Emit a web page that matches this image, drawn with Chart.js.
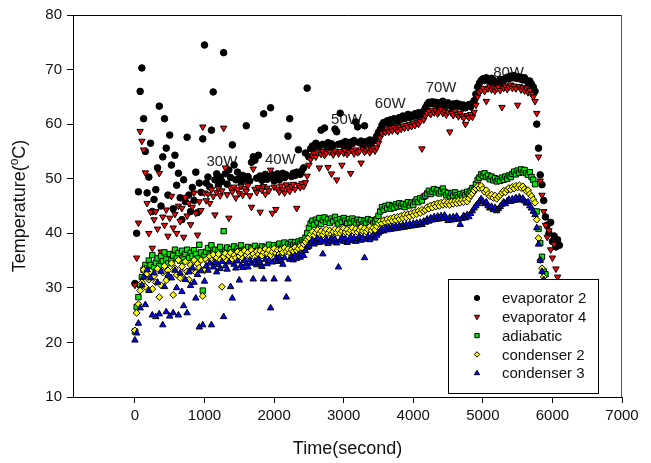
<!DOCTYPE html>
<html>
<head>
<meta charset="utf-8">
<script src="https://cdn.jsdelivr.net/npm/chart.js@4.4.0/dist/chart.umd.min.js"></script>
<style>
  html, body { margin: 0; padding: 0; background: #fff; }
  #wrap { width: 651px; height: 463px; }
</style>
</head>
<body>
<div id="wrap"><canvas id="tempChart" width="651" height="463"></canvas></div>
<script>
// time of each sample (s)
var timeSec = [
  0, 25, 50, 75, 100, 125, 150, 175, 200, 225, 250, 275, 300, 325, 350, 375, 400, 425, 450, 475,
  500, 525, 550, 575, 600, 625, 650, 675, 700, 725, 750, 775, 800, 825, 850, 875, 900, 925, 950, 975,
  1000, 1025, 1050, 1075, 1100, 1125, 1150, 1175, 1200, 1225, 1250, 1275, 1300, 1325, 1350, 1375, 1400, 1425, 1450, 1475,
  1500, 1525, 1550, 1575, 1600, 1625, 1650, 1675, 1700, 1725, 1750, 1775, 1800, 1825, 1850, 1875, 1900, 1925, 1950, 1975,
  2000, 2025, 2050, 2075, 2100, 2125, 2150, 2175, 2200, 2225, 2250, 2275, 2300, 2325, 2350, 2375, 2400, 2425, 2450, 2475,
  2500, 2525, 2550, 2575, 2600, 2625, 2650, 2675, 2700, 2725, 2750, 2775, 2800, 2825, 2850, 2875, 2900, 2925, 2950, 2975,
  3000, 3025, 3050, 3075, 3100, 3125, 3150, 3175, 3200, 3225, 3250, 3275, 3300, 3325, 3350, 3375, 3400, 3425, 3450, 3475,
  3500, 3525, 3550, 3575, 3600, 3625, 3650, 3675, 3700, 3725, 3750, 3775, 3800, 3825, 3850, 3875, 3900, 3925, 3950, 3975,
  4000, 4025, 4050, 4075, 4100, 4125, 4150, 4175, 4200, 4225, 4250, 4275, 4300, 4325, 4350, 4375, 4400, 4425, 4450, 4475,
  4500, 4525, 4550, 4575, 4600, 4625, 4650, 4675, 4700, 4725, 4750, 4775, 4800, 4825, 4850, 4875, 4900, 4925, 4950, 4975,
  5000, 5025, 5050, 5075, 5100, 5125, 5150, 5175, 5200, 5225, 5250, 5275, 5300, 5325, 5350, 5375, 5400, 5425, 5450, 5475,
  5500, 5525, 5550, 5575, 5600, 5625, 5650, 5675, 5700, 5725, 5750, 5775, 5800, 5825, 5850, 5875, 5900, 5925, 5950, 5975,
  6000, 6025, 6050, 6075, 6100
];

var evaporator2 = [
  30.8, 40.0, 47.6, 66.0, 70.3, 61.0, 55.0, 47.4, 50.3, 56.5, 44.0, 46.2, 48.0, 52.0, 63.3, 45.0, 54.0, 61.0, 55.6, 47.0,
  58.0, 52.5, 44.5, 54.3, 48.8, 51.0, 46.5, 42.5, 49.8, 45.8, 57.6, 47.0, 44.0, 48.4, 46.0, 51.2, 43.8, 49.2, 47.5, 57.3,
  74.5, 49.2, 50.3, 48.5, 58.9, 65.9, 49.8, 50.9, 48.8, 50.3, 49.5, 73.1, 50.9, 49.0, 51.6, 50.2, 56.2, 52.5, 49.8, 51.2,
  50.0, 49.4, 50.6, 49.9, 59.7, 50.4, 49.6, 53.0, 54.0, 53.4, 50.1, 54.3, 50.5, 49.7, 61.9, 50.8, 49.9, 50.3, 63.0, 50.7,
  49.6, 50.2, 50.9, 49.8, 50.5, 51.0, 50.2, 50.7, 57.8, 61.0, 50.4, 51.0, 50.6, 51.2, 55.3, 50.8, 51.5, 52.0, 54.7, 66.6,
  54.0, 55.5, 56.0, 55.8, 56.5, 56.2, 55.9, 58.9, 56.3, 59.3, 56.0, 56.6, 55.8, 56.4, 56.1, 59.1, 58.6, 56.3, 62.0, 56.5,
  56.0, 56.8, 56.2, 55.9, 56.7, 56.4, 57.0, 60.4, 59.5, 56.6, 56.9, 56.2, 59.7, 56.8, 56.5, 57.1, 56.6, 56.9, 57.2, 57.8,
  58.5, 59.0, 59.8, 60.3, 60.2, 60.6, 60.1, 60.8, 60.4, 61.0, 60.7, 60.5, 61.2, 60.9, 61.5, 61.0, 61.3, 61.8, 61.2, 61.6,
  61.4, 61.9, 61.5, 62.1, 61.7, 62.0, 62.4, 63.0, 63.6, 64.0, 63.8, 64.1, 63.7, 64.0, 63.5, 63.9, 63.6, 64.2, 63.8, 63.4,
  63.9, 63.6, 63.2, 63.7, 63.4, 63.8, 63.3, 63.6, 63.1, 63.5, 63.0, 63.4, 63.6, 63.2, 63.8, 64.3, 65.5, 66.8, 67.5, 68.0,
  68.3, 68.0, 68.5, 68.2, 67.9, 68.4, 68.1, 67.8, 67.6, 67.9, 68.2, 67.7, 68.0, 68.4, 68.6, 68.3, 68.8, 68.5, 68.9, 68.4,
  68.7, 68.3, 68.6, 68.1, 68.5, 68.0, 67.6, 67.9, 67.3, 66.8, 66.0, 60.0, 55.6, 50.7, 48.9, 46.0, 43.0, 41.5, 40.0, 42.0,
  38.5, 39.5, 37.5, 38.8, 37.8
];

var evaporator4 = [
  30.5, 35.5, 41.9, 58.7, 56.9, 55.3, 51.1, 45.5, 40.0, 43.9, 37.3, 42.5, 44.0, 40.8, 51.0, 36.6, 43.0, 41.5, 44.3, 39.5,
  42.8, 46.8, 41.0, 43.5, 40.0, 45.0, 42.2, 44.6, 39.3, 46.6, 43.2, 45.5, 41.6, 44.8, 47.4, 43.7, 39.7, 45.8, 44.2, 59.5,
  47.4, 46.0, 47.2, 45.5, 48.0, 46.8, 43.4, 47.5, 48.2, 46.9, 47.8, 59.3, 52.0, 47.1, 42.8, 48.3, 47.6, 48.5, 46.5, 48.0,
  47.3, 48.6, 47.0, 48.2, 47.7, 48.8, 46.9, 44.8, 51.8, 48.1, 47.5, 48.4, 43.9, 47.9, 48.6, 47.2, 48.3, 47.8, 51.6, 43.7,
  48.5, 44.4, 48.1, 47.6, 48.7, 48.0, 47.4, 48.9, 48.2, 47.7, 48.6, 49.0, 48.1, 44.6, 48.8, 48.4, 49.1, 48.6, 49.3, 50.5,
  52.5, 53.5, 54.2, 54.6, 54.0, 54.8, 52.0, 54.5, 55.0, 54.3, 54.7, 52.1, 54.9, 50.9, 54.4, 55.1, 49.8, 54.6, 55.0, 52.5,
  54.7, 55.2, 54.5, 54.9, 51.0, 55.1, 54.6, 55.3, 54.8, 55.0, 52.9, 55.4, 54.9, 55.2, 55.5, 54.8, 55.3, 55.6, 55.1, 55.7,
  56.5, 57.5, 58.3, 58.7, 58.5, 59.0, 58.6, 59.2, 58.8, 59.4, 59.0, 58.7, 59.5, 59.1, 59.7, 59.3, 59.8, 59.4, 60.0, 59.6,
  60.2, 59.8, 60.3, 60.0, 60.5, 55.5, 60.8, 61.5, 62.0, 62.4, 61.8, 62.6, 62.1, 62.5, 61.9, 62.3, 62.7, 62.0, 62.4, 61.7,
  62.2, 58.6, 62.0, 61.6, 62.3, 61.8, 61.4, 62.0, 61.5, 61.1, 60.0, 61.6, 61.2, 61.8, 61.3, 62.2, 63.5, 65.0, 65.8, 66.2,
  66.6, 66.0, 64.2, 66.5, 66.9, 66.3, 66.7, 66.1, 66.5, 66.8, 66.2, 63.1, 66.6, 67.0, 66.4, 66.8, 67.2, 66.6, 67.0, 66.5,
  63.5, 66.9, 66.3, 66.7, 66.1, 66.5, 65.8, 66.2, 65.5, 65.0, 64.2, 62.0, 54.0, 49.6, 47.0, 44.0, 41.5, 39.3, 40.5, 37.0,
  35.5, 38.0, 33.5, 32.0
];

var adiabatic = [
  22.0, 26.5, 28.3, 30.5, 32.0, 33.3, 34.2, 33.6, 35.0, 34.2, 36.0, 33.8, 34.6, 35.4, 34.0, 35.8, 34.9, 36.5, 35.2, 34.5,
  36.2, 35.0, 35.9, 37.0, 35.4, 36.4, 35.0, 36.8, 35.6, 36.2, 37.0, 35.5, 36.4, 35.8, 36.9, 36.2, 35.4, 37.9, 36.5, 29.5,
  36.0, 36.6, 37.3, 36.1, 37.8, 36.4, 37.0, 35.8, 36.9, 37.5, 36.2, 40.4, 36.8, 37.4, 36.0, 37.1, 36.5, 37.6, 36.3, 37.2,
  36.7, 37.8, 36.4, 37.0, 36.6, 37.5, 36.1, 37.3, 36.8, 37.7, 36.5, 37.2, 36.9, 37.6, 36.4, 37.4, 37.0, 37.9, 36.7, 37.3,
  37.8, 36.9, 37.5, 38.1, 37.2, 37.7, 38.3, 37.4, 38.0, 37.6, 38.4, 37.9, 38.3, 37.8, 38.5, 38.1, 38.7, 38.4, 39.2, 40.0,
  41.0, 41.8, 42.3, 41.6, 42.5, 42.0, 42.8, 41.7, 42.4, 42.9, 42.1, 42.6, 41.9, 42.7, 42.2, 43.0, 42.4, 41.8, 42.6, 42.1,
  42.8, 42.3, 41.9, 42.6, 42.0, 42.7, 42.2, 41.8, 42.5, 42.0, 42.4, 41.7, 42.3, 41.9, 42.6, 42.0, 42.4, 41.8, 42.2, 42.6,
  43.2, 44.0, 44.8, 44.3, 45.0, 44.6, 45.2, 44.5, 45.0, 44.7, 45.3, 44.9, 45.5, 45.0, 45.4, 44.8, 45.3, 45.7, 45.1, 45.6,
  45.2, 45.8, 46.2, 45.7, 46.4, 46.0, 46.7, 46.9, 47.3, 47.8, 47.2, 47.6, 48.1, 47.5, 47.9, 47.3, 47.7, 48.2, 47.6, 47.0,
  47.4, 46.8, 47.3, 46.9, 47.5, 47.0, 46.6, 47.2, 46.8, 47.4, 47.0, 47.6, 47.2, 47.8, 48.3, 48.0, 49.0, 49.8, 50.2, 50.8,
  50.5, 51.0, 50.3, 50.6, 49.9, 50.4, 49.7, 50.1, 49.5, 49.9, 49.6, 50.2, 49.8, 50.4, 50.0, 50.6, 50.3, 50.9, 51.3, 50.8,
  51.5, 51.1, 51.7, 51.2, 51.6, 51.0, 50.7, 51.2, 50.3, 49.8, 49.0, 44.0, 40.8, 38.2, 35.7, 33.0, 32.5
];

var condenser2 = [
  22.2, 25.4, 27.0, 29.5, 31.0, 33.3, 30.2, 32.6, 31.5, 33.0, 29.8, 32.2, 31.0, 33.5, 28.3, 30.5, 32.8, 34.0, 31.4, 33.2,
  32.0, 34.5, 28.7, 33.6, 32.4, 35.1, 31.8, 33.9, 32.7, 34.8, 33.0, 31.5, 34.2, 33.4, 35.1, 32.8, 34.4, 33.7, 35.1, 28.5,
  33.2, 35.2, 34.6, 35.8, 35.0, 36.1, 34.8, 35.5, 36.2, 35.1, 30.2, 35.7, 36.3, 35.0, 35.9, 36.4, 35.3, 36.0, 35.5, 36.6,
  35.8, 36.3, 35.4, 36.8, 36.0, 36.5, 35.7, 36.9, 36.2, 35.6, 36.7, 36.1, 36.8, 35.9, 36.5, 37.1, 36.3, 36.9, 36.0, 36.6,
  37.2, 36.4, 36.9, 36.2, 37.0, 36.5, 37.3, 36.7, 37.1, 36.4, 37.0, 36.6, 37.4, 36.8, 37.2, 37.7, 37.3, 38.0, 38.4, 38.9,
  39.2, 39.8, 40.3, 39.6, 40.1, 40.6, 39.9, 40.4, 39.7, 40.2, 40.7, 40.0, 40.5, 39.8, 40.3, 40.8, 40.1, 40.6, 40.0, 40.4,
  40.9, 40.2, 40.7, 40.1, 40.5, 41.0, 40.3, 40.8, 40.2, 40.6, 41.1, 40.4, 40.9, 40.3, 40.7, 41.2, 40.5, 41.0, 40.6, 41.3,
  41.8, 42.2, 41.8, 42.4, 42.0, 42.6, 42.1, 42.7, 42.3, 42.9, 42.4, 43.0, 42.6, 43.2, 42.8, 43.4, 42.9, 43.5, 43.1, 43.7,
  43.3, 43.9, 43.5, 44.1, 43.7, 44.3, 44.0, 44.3, 44.8, 44.5, 45.1, 44.7, 45.3, 44.9, 45.5, 45.0, 45.6, 45.2, 45.8, 45.3,
  45.7, 45.2, 45.8, 45.4, 45.9, 45.5, 46.0, 45.6, 46.1, 45.7, 46.2, 45.8, 46.4, 46.9, 47.3, 47.8, 48.2, 48.6, 48.3, 48.7,
  48.1, 47.6, 47.9, 47.2, 46.8, 47.1, 46.5, 46.9, 46.3, 46.7, 47.0, 47.4, 47.8, 47.5, 48.0, 48.3, 48.0, 48.5, 48.2, 48.7,
  48.4, 48.8, 48.3, 48.6, 48.1, 47.7, 47.9, 47.2, 46.8, 46.2, 45.6, 42.5, 39.1, 35.1, 33.6, 32.0
];

var condenser3 = [
  20.4, 21.7, 23.5, 26.3, 30.5, 32.0, 26.9, 33.3, 29.5, 31.8, 25.0, 32.7, 24.7, 31.0, 25.2, 33.0, 23.2, 30.2, 25.6, 32.3,
  24.8, 31.8, 25.4, 33.2, 30.0, 25.0, 32.7, 29.3, 26.7, 31.5, 25.4, 32.9, 30.4, 33.6, 31.0, 28.1, 32.4, 22.8, 33.1, 23.2,
  31.2, 34.0, 33.2, 34.5, 23.2, 33.8, 34.6, 32.9, 34.2, 33.5, 34.8, 24.7, 34.0, 33.4, 34.7, 30.2, 28.1, 34.3, 33.6, 34.9,
  31.4, 34.1, 33.7, 35.0, 34.4, 33.8, 35.1, 34.5, 31.6, 34.9, 34.2, 35.3, 34.6, 33.9, 31.6, 35.2, 34.4, 35.0, 26.3, 34.7,
  31.6, 35.4, 34.8, 35.6, 35.0, 34.3, 35.5, 28.3, 31.6, 35.2, 35.8, 35.1, 35.9, 35.4, 36.1, 35.6, 36.3, 35.9, 36.8, 37.4,
  37.6, 38.2, 38.7, 38.0, 38.5, 39.0, 38.3, 38.8, 36.2, 38.4, 38.9, 38.1, 38.6, 39.1, 38.4, 38.9, 38.2, 33.8, 38.7, 39.2,
  38.5, 39.0, 38.3, 38.8, 39.3, 38.6, 39.1, 38.5, 39.0, 39.4, 38.7, 39.2, 35.5, 38.9, 39.4, 38.8, 39.3, 39.7, 39.1, 39.6,
  40.0, 40.3, 40.8, 40.4, 41.0, 40.6, 41.1, 40.7, 41.2, 40.8, 41.3, 40.9, 41.4, 41.0, 41.5, 41.1, 41.6, 41.2, 41.7, 41.3,
  41.8, 41.4, 41.9, 41.5, 42.0, 41.6, 42.2, 42.0, 42.6, 42.2, 42.8, 42.4, 43.0, 42.5, 43.1, 42.6, 43.2, 42.7, 43.3, 42.8,
  42.3, 42.9, 42.4, 43.0, 42.5, 43.1, 42.6, 41.6, 42.7, 43.2, 42.8, 43.4, 43.0, 43.6, 44.1, 44.6, 45.0, 45.4, 45.8, 46.3,
  45.9, 45.4, 45.7, 45.0, 44.6, 44.9, 44.3, 44.7, 44.1, 44.5, 44.9, 45.3, 45.7, 45.4, 45.9, 46.2, 45.8, 46.3, 46.0, 46.5,
  46.1, 46.6, 46.1, 46.4, 45.9, 45.5, 45.7, 45.0, 44.6, 44.0, 43.4, 41.0, 38.0, 35.0, 33.0, 31.5
];

var seriesNames = ["evaporator 2", "evaporator 4", "adiabatic", "condenser 2", "condenser 3"];
var xTicks = [0, 1000, 2000, 3000, 4000, 5000, 6000, 7000];
var yTicks = [10, 20, 30, 40, 50, 60, 70, 80];

// heater power steps written on the plot
var powerLabels = ["30W", "40W", "50W", "60W", "70W", "80W"];
var powerLabelTime = [1250, 2090, 3040, 3670, 4400, 5370];
var powerLabelTemp = [53.1, 53.4, 60.8, 63.7, 66.6, 69.4];

var FONT = "'Liberation Sans', Arial, Helvetica, sans-serif";

function toPoints(vals) {
  var pts = [];
  for (var i = 0; i < vals.length; i++) {
    pts.push({ x: timeSec[i], y: vals[i] });
  }
  return pts;
}

var powerText = {
  id: 'powerText',
  beforeDatasetsDraw: function (chart) {
    var c = chart.ctx, xs = chart.scales.x, ys = chart.scales.y;
    c.save();
    c.font = '15px ' + FONT;
    c.fillStyle = '#222';
    c.textAlign = 'center';
    c.textBaseline = 'middle';
    for (var i = 0; i < powerLabels.length; i++) {
      c.fillText(powerLabels[i], xs.getPixelForValue(powerLabelTime[i]), ys.getPixelForValue(powerLabelTemp[i]));
    }
    c.restore();
  }
};

var frameAndLegend = {
  id: 'frameAndLegend',
  afterDraw: function (chart) {
    var c = chart.ctx, a = chart.chartArea;
    c.save();
    // top and right edges of the box
    c.strokeStyle = '#000';
    c.lineWidth = 1;
    c.beginPath();
    c.moveTo(a.left, a.top + 0.5);
    c.lineTo(a.right, a.top + 0.5);
    c.stroke();
    c.strokeStyle = '#555';
    c.beginPath();
    c.moveTo(a.right - 0.5, a.top);
    c.lineTo(a.right - 0.5, a.bottom);
    c.stroke();

    // legend box in the lower right corner
    var bx = a.right - 174, by = a.bottom - 118, bw = 150, bh = 114;
    c.fillStyle = '#fff';
    c.fillRect(bx, by, bw, bh);
    c.strokeStyle = '#000';
    c.strokeRect(bx + 0.5, by + 0.5, bw, bh);
    c.font = '15px ' + FONT;
    c.textAlign = 'left';
    c.textBaseline = 'middle';
    chart.data.datasets.forEach(function (ds, i) {
      var ry = by + 19 + i * 18.8;
      c.fillStyle = ds.backgroundColor;
      c.strokeStyle = ds.borderColor;
      c.lineWidth = 1;
      Chart.helpers.drawPoint(c, {
        pointStyle: ds.pointStyle,
        radius: ds.pointRadius * 0.8,
        rotation: ds.pointRotation || 0,
        borderWidth: 1
      }, bx + 29, ry);
      c.fillStyle = '#111';
      c.fillText(ds.label, bx + 54, ry + 1);
    });

    // y axis title with superscript o
    c.translate(20, (a.top + a.bottom) / 2);
    c.rotate(-Math.PI / 2);
    c.fillStyle = '#111';
    c.textBaseline = 'middle';
    var big = '18px ' + FONT, small = '12px ' + FONT;
    var p1 = 'Temperature(', p2 = 'o', p3 = 'C)';
    c.font = big;
    var w1 = c.measureText(p1).width, w3 = c.measureText(p3).width;
    c.font = small;
    var w2 = c.measureText(p2).width;
    var x0 = -(w1 + w2 + w3) / 2;
    c.font = big;
    c.fillText(p1, x0, 0);
    c.font = small;
    c.fillText(p2, x0 + w1, -5);
    c.font = big;
    c.fillText(p3, x0 + w1 + w2, 0);
    c.restore();
  }
};

var ctx = document.getElementById('tempChart').getContext('2d');
var tempChart = new Chart(ctx, {
  type: 'scatter',
  data: {
    datasets: [{
      label: seriesNames[0],
      data: toPoints(evaporator2),
      pointStyle: 'circle',
      pointRadius: 3.3,
      backgroundColor: '#000000',
      borderColor: '#000000',
      borderWidth: 1,
      order: 5
    }, {
      label: seriesNames[1],
      data: toPoints(evaporator4),
      pointStyle: 'triangle',
      pointRotation: 180,
      pointRadius: 3.7,
      backgroundColor: '#ff0000',
      borderColor: '#000000',
      borderWidth: 1,
      order: 4
    }, {
      label: seriesNames[2],
      data: toPoints(adiabatic),
      pointStyle: 'rect',
      pointRadius: 3.8,
      backgroundColor: '#00e800',
      borderColor: '#000000',
      borderWidth: 1,
      order: 3
    }, {
      label: seriesNames[3],
      data: toPoints(condenser2),
      pointStyle: 'rectRot',
      pointRadius: 3.4,
      backgroundColor: '#ffff00',
      borderColor: '#000000',
      borderWidth: 1,
      order: 2
    }, {
      label: seriesNames[4],
      data: toPoints(condenser3),
      pointStyle: 'triangle',
      pointRadius: 3.7,
      backgroundColor: '#0000ff',
      borderColor: '#000000',
      borderWidth: 1,
      order: 1
    }]
  },
  options: {
    responsive: false,
    animation: false,
    devicePixelRatio: 1,
    layout: { padding: { top: 15, right: 29, left: 0, bottom: 0 } },
    plugins: {
      legend: { display: false },
      tooltip: { enabled: false }
    },
    scales: {
      x: {
        type: 'linear',
        min: -890,
        max: 7000,
        afterBuildTicks: function (s) {
          s.ticks = xTicks.map(function (v) { return { value: v }; });
        },
        afterFit: function (s) { s.height = 66; },
        grid: { drawOnChartArea: false, drawTicks: true, tickLength: 6, color: '#000' },
        border: { display: true, color: '#000', width: 1 },
        ticks: {
          color: '#111', font: { family: FONT, size: 15 }, padding: 4, maxRotation: 0, autoSkip: false,
          callback: function (v) { return String(v); }
        },
        title: { display: true, text: 'Time(second)', color: '#111', font: { family: FONT, size: 18 }, padding: { top: 0, bottom: 3 } }
      },
      y: {
        type: 'linear',
        min: 10,
        max: 80,
        afterBuildTicks: function (s) {
          s.ticks = yTicks.map(function (v) { return { value: v }; });
        },
        afterFit: function (s) { s.width = 73; },
        grid: { drawOnChartArea: false, drawTicks: true, tickLength: 6, color: '#000' },
        border: { display: true, color: '#000', width: 1 },
        ticks: { color: '#111', font: { family: FONT, size: 15 }, padding: 5, callback: function (v) { return String(v); } }
      }
    }
  },
  plugins: [powerText, frameAndLegend]
});
</script>
</body>
</html>
